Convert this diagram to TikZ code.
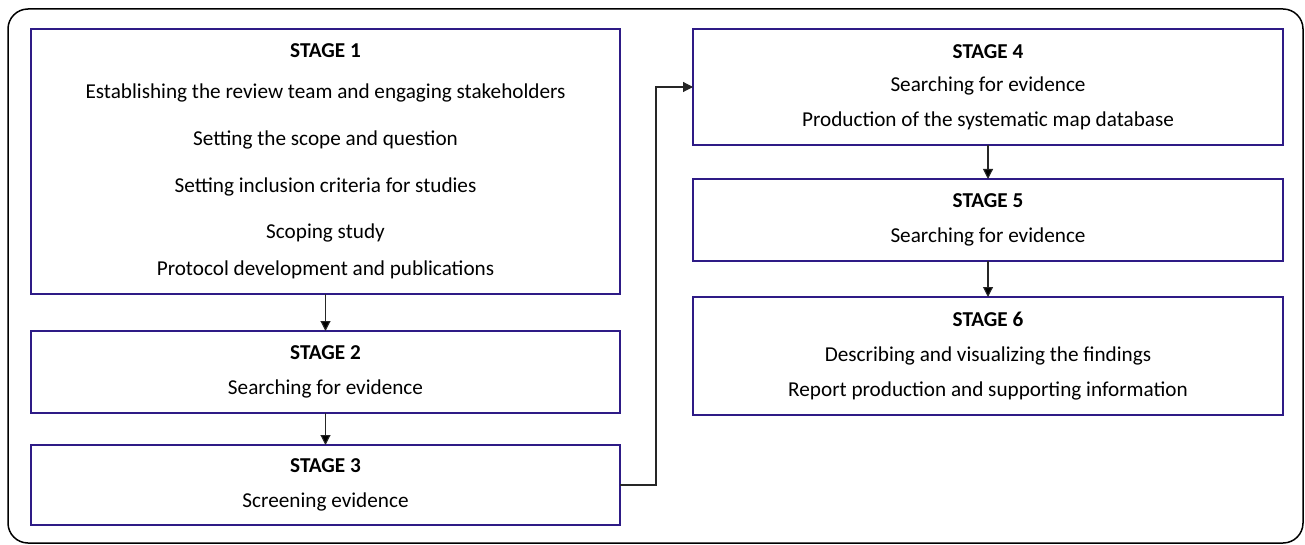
\documentclass[tikz,border=0pt]{standalone}
\usepackage{fontspec}
\setmainfont{Carlito}
\usepackage{tikz}
\usetikzlibrary{positioning,arrows.meta}
\definecolor{stageblue}{RGB}{46,27,134}

\begin{document}
\begin{tikzpicture}[x=1pt,y=1pt,
   stage/.style={draw=stageblue,line width=1pt,inner sep=0pt,outer sep=0pt,align=center,
      font=\fontsize{10.6}{17.5}\selectfont},
   leftcol/.style={stage,minimum width=294.5pt},
   rightcol/.style={stage,minimum width=295pt},
   link/.style={-{Triangle[length=5pt,width=5pt]},draw=black!85,line width=0.55pt}]
   \useasboundingbox (0,0) rectangle (652.5,-272.5);
   \draw[line width=0.75pt,rounded corners=10pt] (4,-4.5) rectangle (651.5,-271.5);

   \node[leftcol,minimum height=132.5pt,anchor=north west] (s_1) at (15.5,-14.5)
      {\textbf{STAGE 1}\\[3pt]
       Establishing the review team and engaging stakeholders\\[6pt]
       Setting the scope and question\\[6pt]
       Setting inclusion criteria for studies\\[5.5pt]
       Scoping study\\[1pt]
       Protocol development and publications};
   \node[leftcol,minimum height=41pt] (s_2) [below=18.5pt of s_1]
      {\textbf{STAGE 2}\\ Searching for evidence};
   \node[leftcol,minimum height=40pt] (s_3) [below=16pt of s_2]
      {\textbf{STAGE 3}\\ Screening evidence};
   \node[rightcol,minimum height=58pt] (s_4) [right=36.5pt of s_1.north east,anchor=north west]
      {\textbf{STAGE 4}\\[-1pt] Searching for evidence\\ Production of the systematic map database};
   \node[rightcol,minimum height=41pt] (s_5) [below=17pt of s_4]
      {\textbf{STAGE 5}\\ Searching for evidence};
   \node[rightcol,minimum height=59pt] (s_6) [below=18pt of s_5]
      {\textbf{STAGE 6}\\ Describing and visualizing the findings\\ Report production and supporting information};

   \path[link]
   (s_1) edge (s_2)
   (s_2) edge (s_3)
   (s_4) edge (s_5)
   (s_5) edge (s_6);
   \draw[link] (s_3.east) -- ++(18,0) |- (s_4.west);
\end{tikzpicture}
\end{document}
